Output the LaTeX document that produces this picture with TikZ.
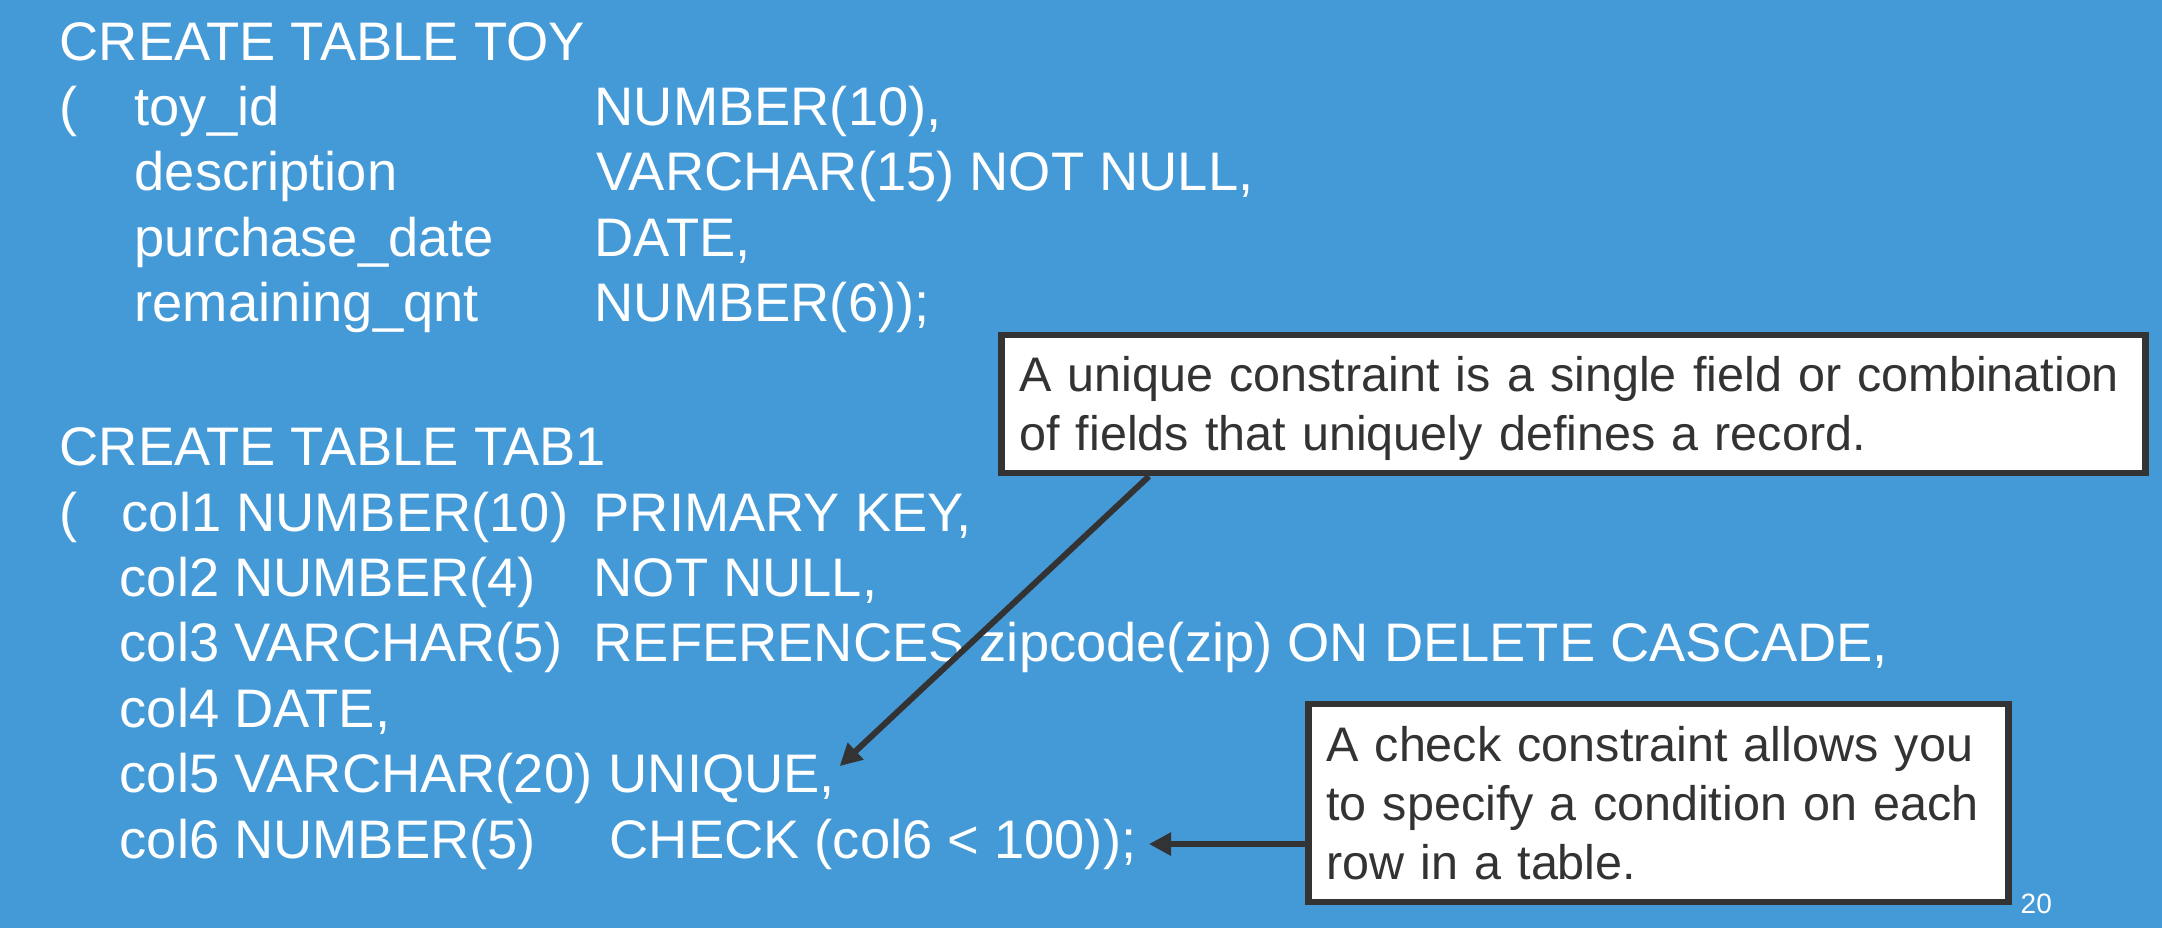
\documentclass[tikz,border=0pt]{standalone}
\usepackage{fontspec}
\setmainfont{Liberation Sans}
\usetikzlibrary{arrows.meta, positioning}

\definecolor{slideblue}{HTML}{4499D7}
\definecolor{notegray}{HTML}{333333}
\newcommand{\codesize}{\fontsize{15.45pt}{18.6pt}\selectfont}
\newcommand{\notesize}{\fontsize{13.8pt}{16.79pt}\selectfont}

\begin{document}
\begin{tikzpicture}[
    x=0.1mm, y=-0.1mm,
    every node/.style={inner sep=0pt, anchor=base west},
    code/.style={text=white, font=\codesize},
    note/.style={draw=notegray, line width=0.65mm, fill=white, text=notegray, font=\notesize, align=left, inner xsep=1.8mm},
    pointer/.style={->, draw=notegray, line width=0.6mm},
    >={Triangle[length=2.2mm, width=2.2mm]}
]

% Background
\fill[slideblue] (0,0) rectangle (2162,928);
\useasboundingbox (0,0) rectangle (2162,928);

% Table TOY
\node[code] (toy) at (59,60) {CREATE TABLE TOY};
\node[code] (toyopen) at (59,125.4) {(};
\node[code] (toyid) at (134,125.4) {toy\_id};
\node[code] (toyidtype) at (594,125.4) {NUMBER(10),};
\node[code] (desc) at (134,190.8) {description};
\node[code] (desctype) at (596,190.8) {VARCHAR(15) NOT NULL,};
\node[code] (purch) at (134,256.2) {purchase\_date};
\node[code] (purchtype) at (594,256.2) {DATE,};
\node[code] (remain) at (134,321.6) {remaining\_qnt};
\node[code] (remaintype) at (594,321.6) {NUMBER(6));};

% Table TAB1
\node[code] (tab) at (59,465.7) {CREATE TABLE TAB1};
\node[code] (tabopen) at (59,531.1) {(};
\node[code] (col1) at (121,531.1) {col1 NUMBER(10)};
\node[code] (col1key) at (593,531.1) {PRIMARY KEY,};
\node[code] (col2) at (119,596.5) {col2 NUMBER(4)};
\node[code] (col2key) at (593,596.5) {NOT NULL,};
\node[code] (col3) at (119,661.9) {col3 VARCHAR(5)};
\node[code] (col3key) at (593,661.9) {REFERENCES zipcode(zip) ON DELETE CASCADE,};
\node[code] (col4) at (119,727.3) {col4 DATE,};
\node[code] (col5) at (119,792.7) {col5 VARCHAR(20)};
\node[code] (unq) at (608,792.7) {UNIQUE,};
\node[code] (col6) at (119,858.1) {col6 NUMBER(5)};
\node[code] (chk) at (609,858.1) {CHECK (col6 < 100));};

% Notes
\node[note, text width=110.8mm, text height=5.67mm, text depth=8.13mm] (unqnote) at (998,391.7)
    {A unique constraint is a single field or combination\\of fields that uniquely defines a record.};
\node[note, text width=66.4mm, text height=5.77mm, text depth=14.03mm] (chknote) at (1305,761.7)
    {A check constraint allows you\\to specify a condition on each\\row in a table.};
\node[text=white, font=\fontsize{7.97pt}{9pt}\selectfont] (page) at (2020,913) {20};

% Arrows
\coordinate (unqfoot) at ([xshift=15.1mm]unqnote.south west);
\draw[pointer] (unqfoot) -- ([xshift=0.4mm, yshift=-1.2mm]unq.north east);
\draw[pointer] (chknote.west |- chk.east) -- ([xshift=1.2mm]chk.east);

\end{tikzpicture}
\end{document}
